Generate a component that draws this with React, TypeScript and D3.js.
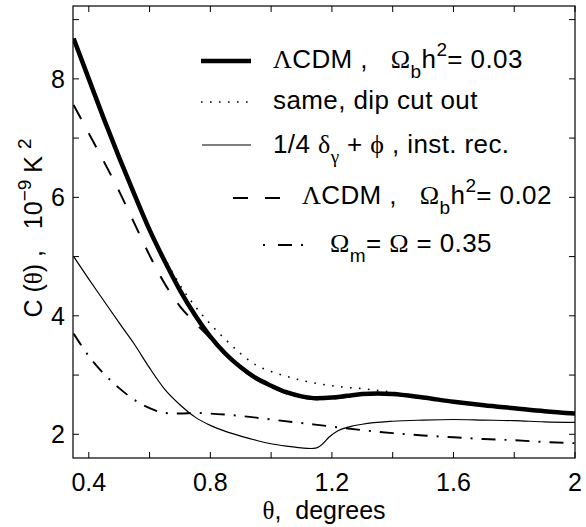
import React from "react";
import * as d3 from "d3";

// theta in degrees, C(theta) in 1e-9 K^2
const lcdm03Theta = [0.35, 0.4, 0.45, 0.5, 0.55, 0.6, 0.65, 0.7, 0.75, 0.8, 0.85, 0.9, 0.95, 1.0, 1.05, 1.1, 1.15, 1.2, 1.25, 1.3, 1.35, 1.4, 1.5, 1.6, 1.7, 1.8, 1.9, 2.0];
const lcdm03C = [8.68, 8.0, 7.32, 6.67, 6.05, 5.45, 4.92, 4.43, 4.01, 3.65, 3.36, 3.13, 2.95, 2.82, 2.71, 2.64, 2.61, 2.62, 2.65, 2.68, 2.69, 2.68, 2.62, 2.55, 2.49, 2.44, 2.39, 2.35];

const dipCutTheta = [0.35, 0.4, 0.45, 0.5, 0.55, 0.6, 0.65, 0.7, 0.75, 0.8, 0.85, 0.9, 0.95, 1.0, 1.05, 1.1, 1.15, 1.2, 1.25, 1.3, 1.35, 1.4, 1.45, 1.5, 1.6, 1.7, 1.8, 1.9, 2.0];
const dipCutC = [8.68, 8.0, 7.32, 6.67, 6.05, 5.47, 4.97, 4.52, 4.16, 3.86, 3.6, 3.36, 3.17, 3.06, 2.98, 2.91, 2.86, 2.82, 2.79, 2.77, 2.74, 2.71, 2.67, 2.63, 2.55, 2.49, 2.44, 2.39, 2.35];

const instRecTheta = [0.35, 0.4, 0.45, 0.5, 0.55, 0.6, 0.65, 0.7, 0.75, 0.8, 0.85, 0.9, 0.95, 1.0, 1.05, 1.1, 1.13, 1.15, 1.17, 1.19, 1.22, 1.26, 1.3, 1.4, 1.5, 1.6, 1.7, 1.8, 1.9, 2.0];
const instRecC = [5.0, 4.62, 4.25, 3.88, 3.52, 3.12, 2.76, 2.5, 2.29, 2.15, 2.05, 1.97, 1.9, 1.84, 1.8, 1.77, 1.76, 1.77, 1.84, 1.95, 2.06, 2.13, 2.17, 2.22, 2.24, 2.25, 2.24, 2.23, 2.21, 2.2];

const lcdm02Theta = [0.35, 0.4, 0.45, 0.5, 0.55, 0.6, 0.65, 0.7, 0.75, 0.8, 0.85, 0.9, 0.95, 1.0, 1.05, 1.1, 1.15, 1.2, 1.25, 1.3, 1.35, 1.4, 1.5, 1.6, 1.7, 1.8, 1.9, 2.0];
const lcdm02C = [7.56, 7.08, 6.6, 6.1, 5.56, 5.02, 4.54, 4.16, 3.88, 3.62, 3.34, 3.11, 2.93, 2.8, 2.69, 2.62, 2.59, 2.6, 2.63, 2.66, 2.68, 2.67, 2.62, 2.55, 2.49, 2.44, 2.39, 2.35];

const omega35Theta = [0.35, 0.4, 0.45, 0.5, 0.55, 0.6, 0.65, 0.7, 0.75, 0.8, 0.9, 1.0, 1.1, 1.2, 1.3, 1.4, 1.5, 1.6, 1.7, 1.8, 1.9, 2.0];
const omega35C = [3.7, 3.32, 3.02, 2.78, 2.58, 2.44, 2.36, 2.35, 2.36, 2.35, 2.31, 2.25, 2.19, 2.13, 2.07, 2.02, 1.98, 1.95, 1.92, 1.9, 1.87, 1.85];

const xTicks = [0.4, 0.6, 0.8, 1.0, 1.2, 1.4, 1.6, 1.8, 2.0];
const xTickLabels = ["0.4", "", "0.8", "", "1.2", "", "1.6", "", "2"];
const yTicks = [2, 3, 4, 5, 6, 7, 8, 9];
const yTickLabels = ["2", "", "4", "", "6", "", "8", ""];

const W = 586, H = 527;
const L = 73, R = 575, T = 6, B = 458;
const SANS = "'Liberation Sans', Arial, Helvetica, sans-serif";
const SERIF = "'Liberation Serif', 'Times New Roman', serif";
const SP = "\u00A0";

export default function App() {
  const x = d3.scaleLinear().domain([0.348, 2.0]).range([L, R]);
  const y = d3.scaleLinear().domain([1.6, 9.23]).range([B, T]);
  const mk = (th: number[], c: number[]) =>
    d3.line<number>().x((_, i) => x(th[i])).y((d) => y(d)).curve(d3.curveMonotoneX)(c) || "";

  const series = [
    { d: mk(lcdm03Theta, lcdm03C), w: 4.5, dash: "none" },
    { d: mk(lcdm02Theta, lcdm02C), w: 2, dash: "16,16" },
    { d: mk(dipCutTheta, dipCutC), w: 1.6, dash: "1.6,7.4" },
    { d: mk(instRecTheta, instRecC), w: 1.2, dash: "none" },
    { d: mk(omega35Theta, omega35C), w: 1.9, dash: "14,9,2,9" },
  ];
  const tk = 6;
  const fs = 25, lfs = 26, sub = 19;

  return (
    <svg width={W} height={H} style={{ display: "block", position: "absolute", left: 0, top: 0, background: "#fff" }}>
      <defs>
        <clipPath id="plot"><rect x={L} y={T} width={R - L} height={B - T} /></clipPath>
      </defs>
      <rect x={0} y={0} width={W} height={H} fill="#fff" />
      <g clipPath="url(#plot)">
        {series.map((s, i) => (
          <path key={i} d={s.d} fill="none" stroke="#000" strokeWidth={s.w} strokeDasharray={s.dash} />
        ))}
      </g>
      <rect x={L} y={T} width={R - L} height={B - T} fill="none" stroke="#000" strokeWidth={1.2} />
      {xTicks.map((t, i) => (
        <g key={"x" + i}>
          <line x1={x(t)} x2={x(t)} y1={B} y2={B - tk} stroke="#000" />
          <line x1={x(t)} x2={x(t)} y1={T} y2={T + tk} stroke="#000" />
          <text x={x(t)} y={491} textAnchor="middle" fontFamily={SANS} fontSize={fs}>{xTickLabels[i]}</text>
        </g>
      ))}
      {yTicks.map((t, i) => (
        <g key={"y" + i}>
          <line x1={L} x2={L + tk} y1={y(t)} y2={y(t)} stroke="#000" />
          <line x1={R} x2={R - tk} y1={y(t)} y2={y(t)} stroke="#000" />
          <text x={65} y={y(t) + 9} textAnchor="end" fontFamily={SANS} fontSize={fs}>{yTickLabels[i]}</text>
        </g>
      ))}
      {/* axis labels */}
      <text x={324} y={519} textAnchor="middle" fontFamily={SANS} fontSize={fs}>
        <tspan fontFamily={SERIF}>θ</tspan>{"," + SP + SP + "degrees"}
      </text>
      <text transform="translate(42,228) rotate(-90)" textAnchor="middle" fontFamily={SANS} fontSize={fs}>
        {"C" + SP + "("}<tspan fontFamily={SERIF}>θ</tspan>{")" + SP + "," + SP + SP + SP + "10"}
        <tspan fontSize={sub} dy={-11}>−9</tspan><tspan dy={11}>{SP + "K" + SP}</tspan><tspan fontSize={sub} dy={-11}>2</tspan>
      </text>
      {/* legend */}
      <g fontFamily={SANS} fontSize={lfs} letterSpacing={0.4}>
        <line x1={201} x2={251} y1={61} y2={61} stroke="#000" strokeWidth={4.5} />
        <text x={273} y={68}>
          <tspan fontFamily={SERIF}>Λ</tspan>{"CDM" + SP + "," + SP + SP + SP}<tspan fontFamily={SERIF}>Ω</tspan>
          <tspan fontSize={sub} dy={10}>b</tspan><tspan dy={-10}>h</tspan><tspan fontSize={sub} dy={-12}>2</tspan><tspan dy={12}>{"=" + SP + "0.03"}</tspan>
        </text>
        <line x1={201} x2={251} y1={102} y2={102} stroke="#000" strokeWidth={1.6} strokeDasharray="1.6,7.4" />
        <text x={273} y={109}>same, dip cut out</text>
        <line x1={202} x2={251} y1={145} y2={145} stroke="#000" strokeWidth={1.2} />
        <text x={273} y={153}>
          {"1/4" + SP}<tspan fontFamily={SERIF}>δ</tspan><tspan fontFamily={SERIF} fontSize={sub} dy={10}>γ</tspan>
          <tspan dy={-10}>{SP + "+" + SP}</tspan><tspan fontFamily={SERIF}>ϕ</tspan>{SP + ", inst. rec."}
        </text>
        <line x1={233} x2={281} y1={198} y2={198} stroke="#000" strokeWidth={2} strokeDasharray="15,17" />
        <text x={302} y={204}>
          <tspan fontFamily={SERIF}>Λ</tspan>{"CDM" + SP + "," + SP + SP + SP}<tspan fontFamily={SERIF}>Ω</tspan>
          <tspan fontSize={sub} dy={10}>b</tspan><tspan dy={-10}>h</tspan><tspan fontSize={sub} dy={-12}>2</tspan><tspan dy={12}>{"=" + SP + "0.02"}</tspan>
        </text>
        <line x1={263} x2={303} y1={245} y2={245} stroke="#000" strokeWidth={1.9} strokeDasharray="2,13,14,9" />
        <text x={330} y={252}>
          <tspan fontFamily={SERIF}>Ω</tspan><tspan fontSize={sub} dy={10}>m</tspan><tspan dy={-10}>{"=" + SP}</tspan>
          <tspan fontFamily={SERIF}>Ω</tspan>{SP + "=" + SP + "0.35"}
        </text>
      </g>
    </svg>
  );
}
